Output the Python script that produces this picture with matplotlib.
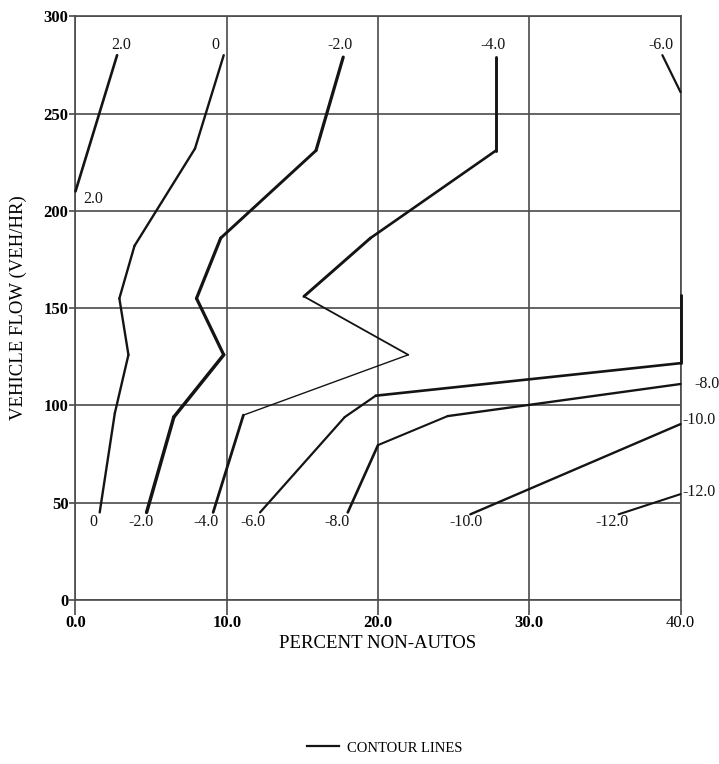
import matplotlib
matplotlib.use("Agg")
import matplotlib.pyplot as plt
from matplotlib.lines import Line2D

plt.rcParams['font.family'] = ['Liberation Serif', 'DejaVu Serif']

# contour lines: percent non-autos (x) vs vehicle flow (y)
c2_x = [0.0, 2.75]
c2_y = [210, 280]
c0_x = [1.6, 2.6, 3.5, 2.9, 3.9, 7.9, 9.8]
c0_y = [45, 96, 126, 155, 182, 232, 280]
cm2_x = [4.7, 6.5, 9.8, 8.0, 9.6, 15.9, 17.7]
cm2_y = [45, 94, 126, 155, 186, 231, 279]
cm4_x = [9.1, 11.1, 22.0, 15.1, 19.5, 27.8, 27.8]
cm4_y = [45, 95, 126, 156, 186, 231, 279]
cm6_low_x = [12.2, 17.8, 19.85, 40.0, 40.0]
cm6_low_y = [45, 94, 105, 121.7, 156.6]
cm6_top_x = [38.8, 40.0]
cm6_top_y = [280, 261]
cm8_x = [18.0, 20.0, 24.6, 40.0]
cm8_y = [45, 79.6, 94.5, 111]
cm10_x = [26.1, 40.0]
cm10_y = [44, 90.4]
cm12_x = [35.9, 40.0]
cm12_y = [44, 54.4]

# contour value labels inside the plot (text, x, y)
label_text = ["2.0", "2.0", "0", "-2.0", "-4.0", "-6.0",
              "0", "-2.0", "-4.0", "-6.0", "-8.0", "-10.0", "-12.0"]
label_x = [3.0, 1.2, 9.25, 17.5, 27.6, 38.7,
           1.15, 4.3, 8.6, 11.7, 17.3, 25.8, 35.5]
label_y = [285, 206, 285, 285, 285, 285,
           40, 40, 40, 40, 40, 40, 40]

# labels past the right edge, left-aligned
edge_text = ["-8.0", "-10.0", "-12.0"]
edge_x = [40.9, 40.15, 40.15]
edge_y = [111, 92.5, 55.5]

x_ticks = [0, 10, 20, 30, 40]
x_tick_labels = ["0.0", "10.0", "20.0", "30.0", "40.0"]
y_ticks = [0, 50, 100, 150, 200, 250, 300]

ink = "#141414"
grid_col = "#4a4a4a"

fig = plt.figure(figsize=(7.19, 7.64), dpi=100)
ax = fig.add_axes([0.105, 0.2147, 0.8415, 0.764])


def draw(xs, ys, widths):
    # one segment at a time so each piece can have its own pen weight
    if not isinstance(widths, list):
        widths = [widths] * (len(xs) - 1)
    for i in range(len(xs) - 1):
        ax.plot(xs[i:i + 2], ys[i:i + 2], color=ink, lw=widths[i],
                solid_capstyle='round', clip_on=False, zorder=3)


draw(c2_x, c2_y, 1.9)
draw(c0_x, c0_y, 1.7)
draw(cm2_x, cm2_y, [2.5, 2.5, 2.3, 2.3, 2.1, 2.3])
draw(cm4_x, cm4_y, [2.0, 1.0, 1.3, 2.1, 1.9, 2.1])
draw(cm6_low_x, cm6_low_y, [1.6, 1.6, 1.9, 2.1])
draw(cm6_top_x, cm6_top_y, 1.6)
draw(cm8_x, cm8_y, [1.9, 1.5, 1.7])
draw(cm10_x, cm10_y, 1.7)
draw(cm12_x, cm12_y, 1.5)

for t, x, y in zip(label_text, label_x, label_y):
    ax.text(x, y, t, ha='center', va='center', fontsize=11.5,
            color=ink, clip_on=False)
for t, x, y in zip(edge_text, edge_x, edge_y):
    ax.text(x, y, t, ha='left', va='center', fontsize=11.5,
            color=ink, clip_on=False)

ax.set_xlim(0, 40)
ax.set_ylim(0, 300)
ax.set_xticks(x_ticks)
ax.set_xticklabels(x_tick_labels, fontsize=12, fontweight='bold')
ax.set_yticks(y_ticks)
ax.set_yticklabels([str(v) for v in y_ticks], fontsize=12, fontweight='bold')
ax.get_xticklabels()[-1].set_fontweight('normal')
ax.tick_params(axis='x', direction='out', length=11, width=1.2, color=grid_col, pad=0)
ax.tick_params(axis='y', direction='out', length=4, width=1.2, color=grid_col, pad=1)
ax.grid(True, color=grid_col, lw=1.2)
for s in ax.spines.values():
    s.set_color(grid_col)
    s.set_linewidth(1.2)

ax.set_xlabel("PERCENT NON-AUTOS", fontsize=13.5, labelpad=3)
ax.set_ylabel("VEHICLE FLOW (VEH/HR)", fontsize=13.5, labelpad=12)

handle = Line2D([], [], color=ink, lw=1.6)
fig.legend([handle], ["CONTOUR LINES"], loc='center', bbox_to_anchor=(0.535, 0.021),
           frameon=False, fontsize=10.5, handlelength=2.2, handletextpad=0.5)

fig.savefig("out.png", dpi=100)
